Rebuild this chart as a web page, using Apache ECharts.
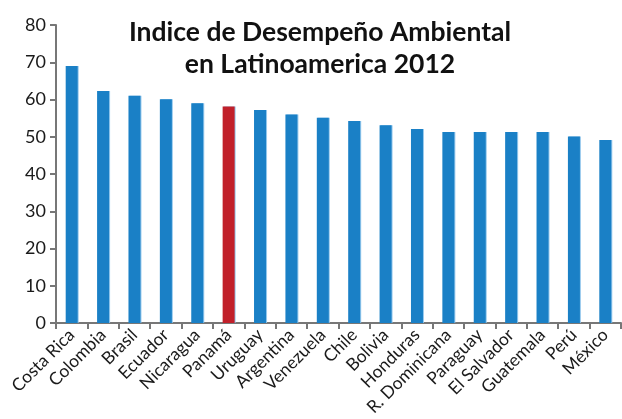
<!DOCTYPE html>
<html>
<head>
<meta charset="utf-8">
<script src="https://cdn.jsdelivr.net/npm/echarts@6/dist/echarts.min.js"></script>
<style>
  html, body { margin: 0; padding: 0; background: #fff; }
  #chart { width: 622px; height: 419px; }
</style>
</head>
<body>
<div id="chart"></div>
<script>
// Environmental Performance Index 2012, Latin American countries
const countries = ['Costa Rica', 'Colombia', 'Brasil', 'Ecuador', 'Nicaragua', 'Panamá', 'Uruguay',
  'Argentina', 'Venezuela', 'Chile', 'Bolivia', 'Honduras', 'R. Dominicana', 'Paraguay',
  'El Salvador', 'Guatemala', 'Perú', 'México'];
const scores = [69.0, 62.3, 61.0, 60.1, 59.0, 58.1, 57.2, 56.0, 55.1, 54.2, 53.1, 52.1, 51.3, 51.3,
  51.3, 51.3, 50.1, 49.1];
const highlighted = 'Panamá';
const yTicks = [0, 10, 20, 30, 40, 50, 60, 70, 80];

const blue = '#1a80c6';
const red = '#c1202a';
const axisGray = '#777777';
const font = 'Lato, "Open Sans", sans-serif';

const chart = echarts.init(document.getElementById('chart'), null, { renderer: 'canvas' });

chart.setOption({
  animation: false,
  backgroundColor: '#ffffff',
  title: {
    text: 'Indice de Desempeño Ambiental\nen Latinoamerica 2012',
    left: 315,
    top: 11,
    textAlign: 'center',
    textStyle: {
      fontFamily: font,
      fontWeight: 'bold',
      fontSize: 26.5,
      lineHeight: 32,
      color: '#111111'
    }
  },
  grid: { left: 56, right: 1, top: 25, bottom: 96, containLabel: false },
  xAxis: {
    type: 'category',
    data: countries,
    axisLine: { lineStyle: { color: axisGray, width: 2 } },
    axisTick: { show: true, length: 6, lineStyle: { color: axisGray, width: 2 } },
    axisLabel: {
      rotate: 45,
      interval: 0,
      margin: 9,
      fontFamily: font,
      fontSize: 17.5,
      color: '#1a1a1a'
    }
  },
  yAxis: {
    type: 'value',
    min: yTicks[0],
    max: yTicks[yTicks.length - 1],
    interval: 10,
    splitLine: { show: false },
    axisLine: { show: true, lineStyle: { color: axisGray, width: 2 } },
    axisTick: { show: true, length: 6, lineStyle: { color: axisGray, width: 2 } },
    axisLabel: {
      margin: 10,
      fontFamily: font,
      fontSize: 18,
      color: '#1a1a1a'
    }
  },
  series: [{
    type: 'bar',
    barWidth: 12,
    data: scores.map((v, i) => ({
      value: v,
      itemStyle: { color: countries[i] === highlighted ? red : blue }
    })),
    itemStyle: {
      shadowColor: 'rgba(140,195,235,0.9)',
      shadowBlur: 0,
      shadowOffsetX: 1
    }
  }]
});
</script>
</body>
</html>
